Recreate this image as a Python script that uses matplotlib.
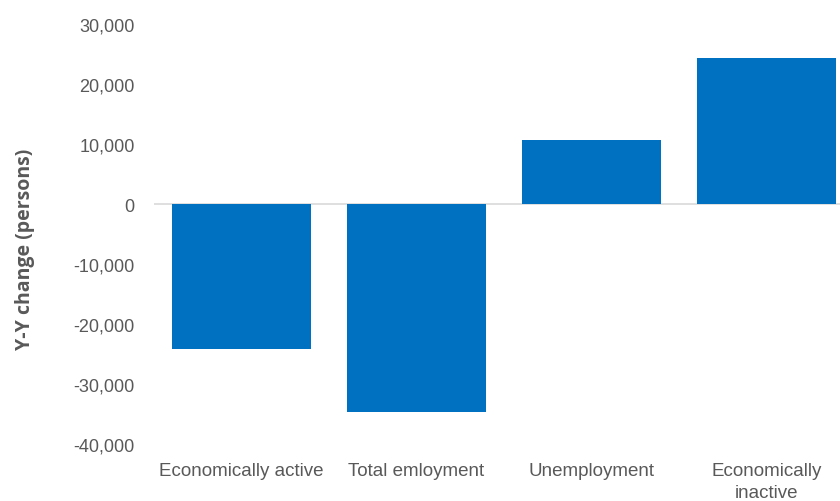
import matplotlib
matplotlib.use("Agg")
import matplotlib.pyplot as plt
from matplotlib.ticker import FuncFormatter

categories = ["Economically active", "Total emloyment", "Unemployment", "Economically\ninactive"]
yy_change = [-24100, -34700, 10650, 24300]
y_ticks = [30000, 20000, 10000, 0, -10000, -20000, -30000, -40000]

plt.rcParams["font.family"] = ["Liberation Sans", "DejaVu Sans"]

fig = plt.figure(figsize=(8.4, 5.02), dpi=100)
# plot area runs past the right edge of the figure
ax = fig.add_axes([0.1833, 0.1135, 0.8333, 0.8367])

ax.bar(range(len(categories)), yy_change, width=0.795, color="#0070C0", zorder=3)
ax.axhline(0, color="#D9D9D9", lw=1.2, zorder=2)

ax.set_xlim(-0.5, len(categories) - 0.5)
ax.set_ylim(-40000, 30000)
ax.set_yticks(y_ticks)
ax.yaxis.set_major_formatter(FuncFormatter(lambda v, _: f"{v:,.0f}"))
ax.set_xticks(range(len(categories)))
ax.set_xticklabels(categories, linespacing=1.4)

ax.tick_params(axis="y", length=0, colors="#595959", labelsize=13, pad=14)
ax.tick_params(axis="x", length=0, colors="#595959", labelsize=13.5, pad=13)
for spine in ax.spines.values():
    spine.set_visible(False)

ax.set_ylabel("Y-Y change (persons)", color="#595959", fontsize=14,
              fontweight="bold", family=["Open Sans", "DejaVu Sans"])
ax.yaxis.set_label_coords(-0.17, 0.466)

fig.savefig("out.png", dpi=100)
